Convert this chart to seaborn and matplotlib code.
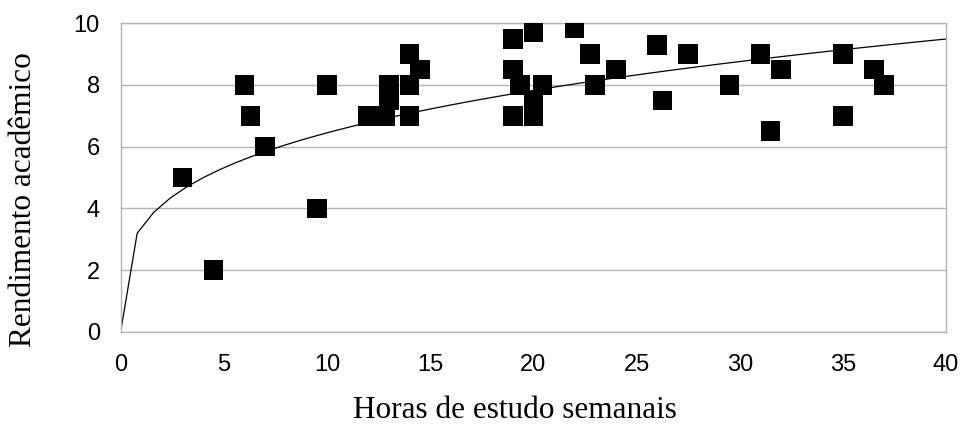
import numpy as np
import pandas as pd
import matplotlib
matplotlib.use("Agg")
import matplotlib.pyplot as plt
import seaborn as sns

horas = [3, 4.5, 6, 6.3, 7, 9.5, 10, 12, 12.8, 13, 13, 14, 14.5, 14, 14,
         19, 20, 22, 22.75, 19, 19.35, 20.45, 20, 19, 20, 23, 24, 26, 26.25,
         27.5, 29.5, 31, 31.5, 32, 35, 35, 36.5, 37]
rendimento = [5, 2, 8, 7, 6, 4, 8, 7, 7, 7.5, 8, 9, 8.5, 8, 7,
              9.5, 9.7, 9.85, 9, 8.5, 8, 8, 7.5, 7, 7, 8, 8.5, 9.3, 7.5,
              9, 8, 9, 6.5, 8.5, 9, 7, 8.5, 8]
x_ticks = [0, 5, 10, 15, 20, 25, 30, 35, 40]
y_ticks = [0, 2, 4, 6, 8, 10]
x_label = "Horas de estudo semanais"
y_label = "Rendimento acadêmico"

df = pd.DataFrame({"horas": horas, "rendimento": rendimento})

# power trend line fitted to the data (y = c * x^p)
p, lnc = np.polyfit(np.log(df["horas"]), np.log(df["rendimento"]), 1)
xs = np.linspace(0, 40, 51)
ys = np.exp(lnc) * xs ** p
trend = pd.DataFrame({"x": xs, "y": ys})

sns.set_theme(style="white")
plt.rcParams["font.family"] = ["Liberation Sans", "DejaVu Sans"]

fig = plt.figure(figsize=(9.63, 4.32), dpi=100)
ax = fig.add_axes([0.1253, 0.2322, 0.8571, 0.7139])

grid_c = "#b3b3b3"
for yv in y_ticks:
    ax.axhline(yv, color=grid_c, lw=1.0, zorder=0)

sns.lineplot(data=trend, x="x", y="y", ax=ax, color="black", lw=0.9,
             zorder=2, legend=False)
sns.scatterplot(data=df, x="horas", y="rendimento", ax=ax, marker="s",
                s=200, color="black", edgecolor="none", zorder=3,
                legend=False)

ax.set_xlim(0, 40)
ax.set_ylim(0, 10)
ax.set_xticks(x_ticks)
ax.set_yticks(y_ticks)
ax.set_xticklabels([str(t) for t in x_ticks])
ax.set_yticklabels([str(t) for t in y_ticks])
ax.tick_params(axis="both", which="major", length=8, width=1.0,
               color=grid_c, labelsize=17, labelcolor="black", direction="out")
ax.tick_params(axis="x", pad=8)
ax.tick_params(axis="y", pad=7)
for s in ["left", "right", "bottom", "top"]:
    ax.spines[s].set_color(grid_c)
    ax.spines[s].set_linewidth(1.0)

serif = ["Liberation Serif", "DejaVu Serif"]
ax.set_xlabel(x_label, fontsize=22.5, family=serif, color="black")
ax.set_ylabel(y_label, fontsize=22.5, family=serif, color="black")
ax.xaxis.set_label_coords(0.478, -0.255)
ax.yaxis.set_label_coords(-0.118, 0.427)
ax.xaxis.label.set_va("center")
ax.yaxis.label.set_va("center")

fig.savefig("out.png", dpi=100)
